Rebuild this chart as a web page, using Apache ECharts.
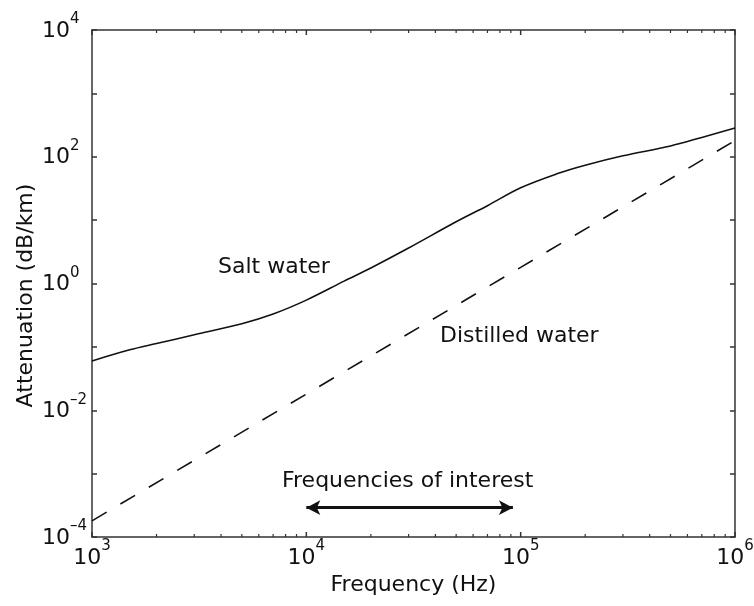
<!DOCTYPE html>
<html>
<head>
<meta charset="utf-8">
<script src="https://cdn.jsdelivr.net/npm/echarts@6/dist/echarts.min.js"></script>
<style>
html,body{margin:0;padding:0;background:#fff;}
#chart{width:754px;height:606px;}
</style>
</head>
<body>
<div id="chart"></div>
<script>
// Frequencies (Hz)
const saltFreq = [1000, 1500, 2000, 3000, 5000, 7000, 10000, 15000, 20000, 30000, 50000, 70000, 100000, 150000, 200000, 300000, 500000, 700000, 1000000];
// Salt water attenuation (dB/km)
const saltAtten = [0.060, 0.090, 0.113, 0.155, 0.232, 0.330, 0.547, 1.09, 1.76, 3.63, 9.42, 16.9, 32.4, 54.8, 73.5, 103.5, 148, 202, 284];
// Distilled water
const distFreq = [1000, 10000, 100000, 1000000];
const distAtten = [0.00018, 0.018, 1.8, 180];
// Arrow "frequencies of interest"
const interestRange = [10000, 92000];
const interestLevel = 0.00029;
// Axis ranges and tick values
const xRange = [1000, 1000000];
const yRange = [0.0001, 10000];
const xMajorTicks = [1000, 10000, 100000, 1000000];
const xMinorTicks = [2000, 3000, 4000, 5000, 6000, 7000, 8000, 9000,
                     20000, 30000, 40000, 50000, 60000, 70000, 80000, 90000,
                     200000, 300000, 400000, 500000, 600000, 700000, 800000, 900000];

const FONT = 'DejaVu Sans';
const INK = '#111';
const AXC = '#333';

function supLabel(v, every) {
  const e = Math.round(Math.log10(v));
  if (every && e % every !== 0) return '';
  const s = e < 0 ? '\u2013' + (-e) : String(e);
  return '{b|10}{s|' + s + '}';
}
const rich = {
  b: {fontFamily: FONT, fontSize: 22, color: INK, verticalAlign: 'bottom', lineHeight: 24},
  s: {fontFamily: FONT, fontSize: 15, color: INK, verticalAlign: 'bottom', lineHeight: 15, padding: [0, 0, 15, 0]}
};
const axisLine = {show: true, onZero: false, lineStyle: {color: AXC, width: 1.5}};

function yAx(pos, extra) {
  return Object.assign({
    type: 'log', logBase: 10, min: yRange[0], max: yRange[1], splitNumber: 8,
    position: pos,
    axisLine: axisLine,
    axisTick: {show: true, inside: true, length: 5, lineStyle: {color: AXC, width: 1.5}},
    splitLine: {show: false},
    axisLabel: {show: false}
  }, extra || {});
}

// x ticks (inside, bottom and top) drawn through the x axis scale
function tickSeries(values, len, w) {
  return {
    type: 'custom', xAxisIndex: 0, yAxisIndex: 0, silent: true, clip: false, z: 5,
    data: values.map(v => [v, yRange[0]]),
    renderItem: function (params, api) {
      const pb = api.coord([api.value(0), yRange[0]]);
      const pt = api.coord([api.value(0), yRange[1]]);
      const st = {stroke: AXC, lineWidth: w};
      return {type: 'group', children: [
        {type: 'line', shape: {x1: pb[0], y1: pb[1], x2: pb[0], y2: pb[1] - len}, style: st},
        {type: 'line', shape: {x1: pt[0], y1: pt[1], x2: pt[0], y2: pt[1] + len}, style: st}
      ]};
    }
  };
}

const chart = echarts.init(document.getElementById('chart'), null, {renderer: 'canvas'});
chart.setOption({
  animation: false,
  backgroundColor: '#fff',
  grid: {left: 92, right: 19, top: 30, bottom: 69, containLabel: false, outerBoundsMode: 'none'},
  xAxis: [
    {
      type: 'log', logBase: 10, min: xRange[0], max: xRange[1], splitNumber: 3,
      position: 'bottom',
      name: 'Frequency (Hz)', nameLocation: 'middle', nameGap: 37, nameMoveOverlap: false,
      nameTextStyle: {fontFamily: FONT, fontSize: 22, color: INK},
      axisLine: axisLine,
      axisTick: {show: false},
      splitLine: {show: false},
      axisLabel: {show: true, margin: 8, formatter: v => supLabel(v), rich: rich}
    },
    {
      type: 'log', logBase: 10, min: xRange[0], max: xRange[1], splitNumber: 3,
      position: 'top',
      axisLine: axisLine,
      axisTick: {show: false},
      splitLine: {show: false},
      axisLabel: {show: false}
    }
  ],
  yAxis: [
    yAx('left', {
      name: 'Attenuation (dB/km)', nameLocation: 'middle', nameGap: 55, nameMoveOverlap: false,
      nameTextStyle: {fontFamily: FONT, fontSize: 22, color: INK, padding: [0, 24, 0, 0]},
      axisLabel: {show: true, margin: 50, align: 'left', formatter: v => supLabel(v, 2), rich: rich}
    }),
    yAx('right')
  ],
  series: [{
    name: 'Salt water', type: 'line', xAxisIndex: 0, yAxisIndex: 0,
    data: saltFreq.map((f, i) => [f, saltAtten[i]]),
    smooth: 0.35, showSymbol: false, symbol: 'none',
    lineStyle: {color: INK, width: 1.6}
  }, {
    name: 'Distilled water', type: 'line', xAxisIndex: 0, yAxisIndex: 0,
    data: distFreq.map((f, i) => [f, distAtten[i]]),
    showSymbol: false, symbol: 'none',
    lineStyle: {color: INK, width: 1.6, type: [17, 16]},
    markLine: {
      silent: true, symbol: ['arrow', 'arrow'], symbolSize: [11, 14],
      label: {show: false},
      lineStyle: {type: 'solid', width: 3, color: INK},
      data: [[{coord: [interestRange[0], interestLevel]}, {coord: [interestRange[1], interestLevel]}]]
    }
  },
  tickSeries(xMajorTicks, 5, 1.5),
  tickSeries(xMinorTicks, 3, 1.2)
  ],
  graphic: [
    {type: 'text', left: 218, top: 256, style: {text: 'Salt water', font: '22px "DejaVu Sans"', fill: INK}},
    {type: 'text', left: 440, top: 325, style: {text: 'Distilled water', font: '22px "DejaVu Sans"', fill: INK}},
    {type: 'text', left: 282, top: 470, style: {text: 'Frequencies of interest', font: '22px "DejaVu Sans"', fill: INK}}
  ]
});
</script>
</body>
</html>
